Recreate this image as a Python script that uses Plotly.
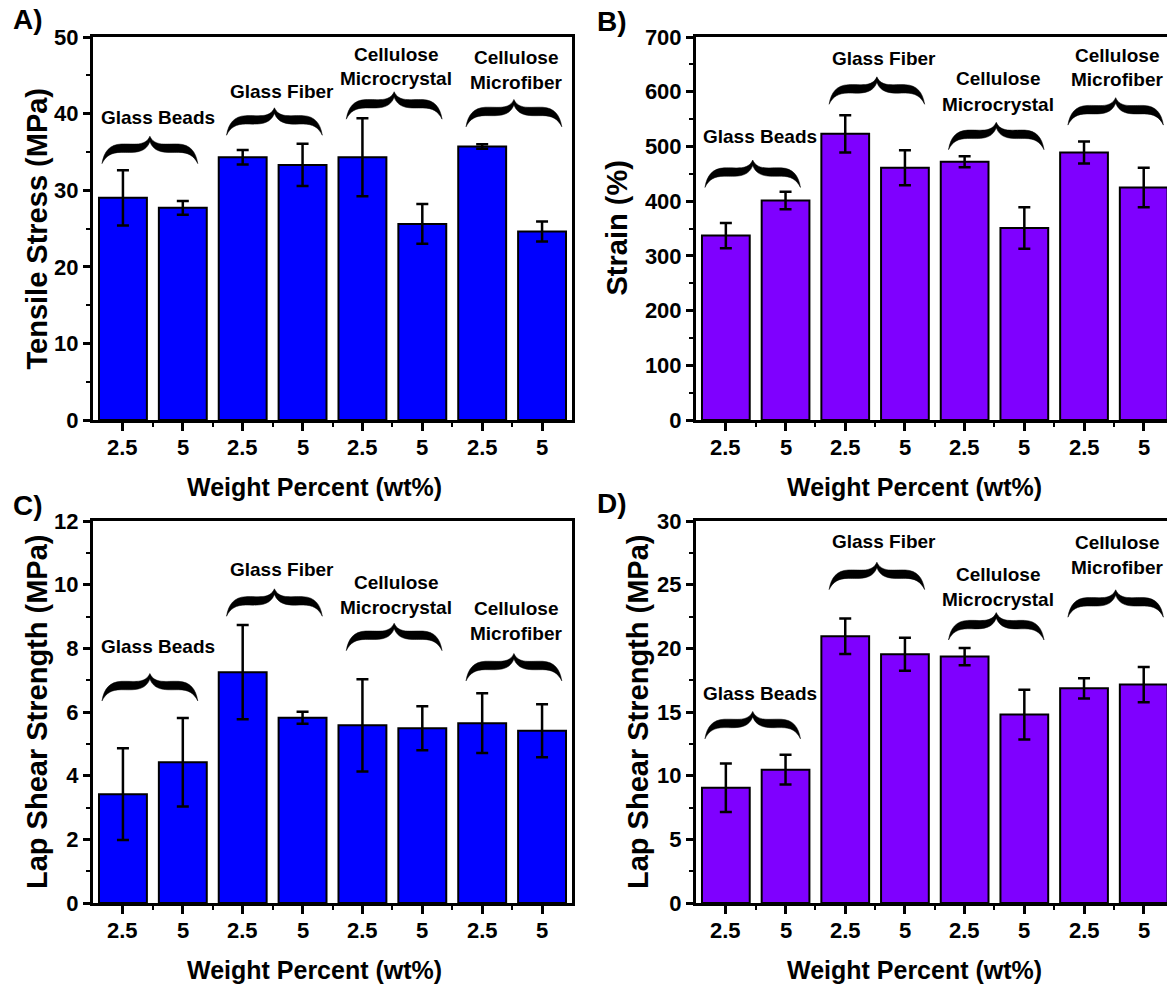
import plotly.graph_objects as go

W, H = 1167, 984

# ---------------- data ----------------
x_labels = ["2.5", "5", "2.5", "5", "2.5", "5", "2.5", "5"]
x_pos = list(range(len(x_labels)))

tensile = [29.0, 27.7, 34.3, 33.3, 34.3, 25.6, 35.7, 24.6]
tensile_err = [3.6, 0.9, 0.95, 2.75, 5.1, 2.6, 0.3, 1.3]

strain = [337, 401, 523, 461, 472, 351, 489, 425]
strain_err = [23, 16, 34, 32, 10, 38, 20, 36]

lap_c = [3.42, 4.42, 7.25, 5.82, 5.58, 5.49, 5.65, 5.41]
lap_c_err = [1.44, 1.39, 1.48, 0.19, 1.45, 0.69, 0.94, 0.83]

lap_d = [9.05, 10.47, 20.95, 19.53, 19.35, 14.8, 16.86, 17.15]
lap_d_err = [1.9, 1.17, 1.4, 1.3, 0.67, 1.95, 0.8, 1.38]

group_lines = [["Glass Beads"], ["Glass Fiber"], ["Cellulose", "Microcrystal"], ["Cellulose", "Microfiber"]]
brace_x = [0.45, 2.53, 4.53, 6.53]
label_x = [0.58, 2.65, 4.56, 6.56]

# per panel: brace bottom y, label line y's
braces_a = [(33.4, [39.5]), (37.1, [42.9]), (39.2, [47.7, 44.6]), (38.2, [47.3, 44.0])]
braces_b = [(424, [518]), (576, [660]), (493, [624, 577]), (538, [667, 622])]
braces_c = [(6.33, [8.07]), (8.99, [10.48]), (7.91, [10.08, 9.27]), (6.96, [9.24, 8.46])]
braces_d = [(12.85, [16.48]), (24.57, [28.37]), (20.61, [25.78, 23.87]), (22.4, [28.3, 26.35])]

BLUE = "#0000FF"
PURPLE = "#7F00FF"
FONT = "Liberation Sans"


def fx(p):
    return p / W


def fy(p):
    return 1 - p / H


panels = [
    dict(k="", v=tensile, e=tensile_err, c=BLUE, ymax=50, dt=10, mdt=5, xd=(93, 572), yd=(37, 420),
         xr=7.5, my=True, br=braces_a, yt="Tensile Stress (MPa)", yt_x=37, letter="A)", lx=28, ly=20,
         xt_x=314, xt_y=487, tl_y=447),
    dict(k="2", v=strain, e=strain_err, c=PURPLE, ymax=700, dt=100, mdt=50, xd=(696, 1167), yd=(37, 420),
         xr=7.39, my=False, br=braces_b, yt="Strain (%)", yt_x=617, letter="B)", lx=612, ly=21,
         xt_x=914, xt_y=487, tl_y=447),
    dict(k="3", v=lap_c, e=lap_c_err, c=BLUE, ymax=12, dt=2, mdt=1, xd=(93, 572), yd=(521, 903),
         xr=7.5, my=True, br=braces_c, yt="Lap Shear Strength (MPa)", yt_x=37, letter="C)", lx=28, ly=505,
         xt_x=314, xt_y=970, tl_y=930),
    dict(k="4", v=lap_d, e=lap_d_err, c=PURPLE, ymax=30, dt=5, mdt=2.5, xd=(696, 1167), yd=(521, 903),
         xr=7.39, my=False, br=braces_d, yt="Lap Shear Strength (MPa)", yt_x=638, letter="D)", lx=612, ly=503,
         xt_x=914, xt_y=970, tl_y=930),
]

fig = go.Figure()
layout = {}
shapes = []
annotations = []

# normalized brace outline (u across, v up)
brace_segments = [
    ("M", [(0, 0.02)]),
    ("C", [(0.02, 0.45), (0.08, 0.70), (0.2, 0.72)]),
    ("C", [(0.33, 0.74), (0.45, 0.62), (0.5, 1.0)]),
    ("C", [(0.55, 0.62), (0.67, 0.74), (0.8, 0.72)]),
    ("C", [(0.92, 0.70), (0.98, 0.45), (1, 0.02)]),
    ("C", [(0.96, 0.30), (0.90, 0.42), (0.8, 0.42)]),
    ("C", [(0.68, 0.42), (0.55, 0.36), (0.5, 0.8)]),
    ("C", [(0.45, 0.36), (0.32, 0.42), (0.2, 0.42)]),
    ("C", [(0.10, 0.42), (0.04, 0.30), (0, 0.02)]),
]


def brace_path(xc, yb, w, h):
    parts = []
    for cmd, pts in brace_segments:
        coords = " ".join(f"{xc + (u - 0.5) * w:.4f},{yb + v * h:.4f}" for u, v in pts)
        parts.append(f"{cmd}{coords}")
    return " ".join(parts) + " Z"


for p in panels:
    k = p["k"]
    xa = "x" + k
    ya = "y" + k
    fig.add_trace(go.Bar(
        x=x_pos, y=p["v"], width=0.8,
        marker=dict(color=p["c"], line=dict(color="black", width=2)),
        error_y=dict(type="data", array=p["e"], visible=True, color="black", thickness=2.5, width=6),
        xaxis=xa, yaxis=ya, showlegend=False,
    ))
    plot_h = p["yd"][1] - p["yd"][0]
    layout["xaxis" + k] = dict(
        domain=[fx(p["xd"][0]), fx(p["xd"][1])], anchor=ya,
        range=[-0.5, p["xr"]], tickmode="array", tickvals=x_pos, showticklabels=False,
        ticks="outside", ticklen=8, tickwidth=2.5, tickcolor="black",
        showline=True, linewidth=3, linecolor="black", mirror=True,
        showgrid=False, zeroline=False, fixedrange=True, automargin=False,
        minor=dict(tickmode="array", tickvals=[i + 0.5 for i in x_pos[:-1]], ticks="outside",
                   ticklen=4, tickwidth=2, tickcolor="black", showgrid=False),
    )
    layout["yaxis" + k] = dict(
        domain=[fy(p["yd"][1]), fy(p["yd"][0])], anchor=xa,
        range=[0, p["ymax"]], dtick=p["dt"], tick0=0,
        ticks="outside", ticklen=7, tickwidth=2.5, tickcolor="black",
        showline=True, linewidth=3, linecolor="black", mirror=p["my"],
        showgrid=False, zeroline=False, fixedrange=True, automargin=False,
        tickfont=dict(family=FONT, size=22, color="black", weight="bold"),
        minor=dict(dtick=p["mdt"], tick0=0, ticks="outside", ticklen=4, tickwidth=2,
                   tickcolor="black", showgrid=False),
    )
    # category tick labels placed just below the axis
    for xi, lab in zip(x_pos, x_labels):
        annotations.append(dict(x=xi, y=fy(p["tl_y"]), xref=xa, yref="paper", text=lab, showarrow=False,
                                xanchor="center", yanchor="middle",
                                font=dict(family=FONT, size=22, color="black", weight="bold")))
    bh = 28 * p["ymax"] / plot_h
    for gi, (yb, ly) in enumerate(p["br"]):
        shapes.append(dict(type="path", xref=xa, yref=ya, path=brace_path(brace_x[gi], yb, 1.6, bh),
                           fillcolor="black", line=dict(color="black", width=0.5), layer="above"))
        for line_text, yy in zip(group_lines[gi], ly):
            annotations.append(dict(x=label_x[gi], y=yy, xref=xa, yref=ya, text=line_text, showarrow=False,
                                    xanchor="center", yanchor="middle",
                                    font=dict(family=FONT, size=19, color="black", weight="bold")))
    # axis titles
    yc = (p["yd"][0] + p["yd"][1]) / 2
    annotations.append(dict(x=fx(p["yt_x"]), y=fy(yc), xref="paper", yref="paper", text=p["yt"],
                            textangle=-90, showarrow=False, xanchor="center", yanchor="middle",
                            font=dict(family=FONT, size=29, color="black", weight="bold")))
    annotations.append(dict(x=fx(p["xt_x"]), y=fy(p["xt_y"]), xref="paper", yref="paper",
                            text="Weight Percent (wt%)", showarrow=False, xanchor="center", yanchor="middle",
                            font=dict(family=FONT, size=25, color="black", weight="bold")))
    annotations.append(dict(x=fx(p["lx"]), y=fy(p["ly"]), xref="paper", yref="paper", text=p["letter"],
                            showarrow=False, xanchor="center", yanchor="middle",
                            font=dict(family=FONT, size=28, color="black", weight="bold")))

fig.update_layout(
    width=W, height=H, margin=dict(l=0, r=0, t=0, b=0, pad=0, autoexpand=False),
    paper_bgcolor="white", plot_bgcolor="white",
    shapes=shapes, annotations=annotations, bargap=0.2, **layout,
)

fig.write_html("out.html")
